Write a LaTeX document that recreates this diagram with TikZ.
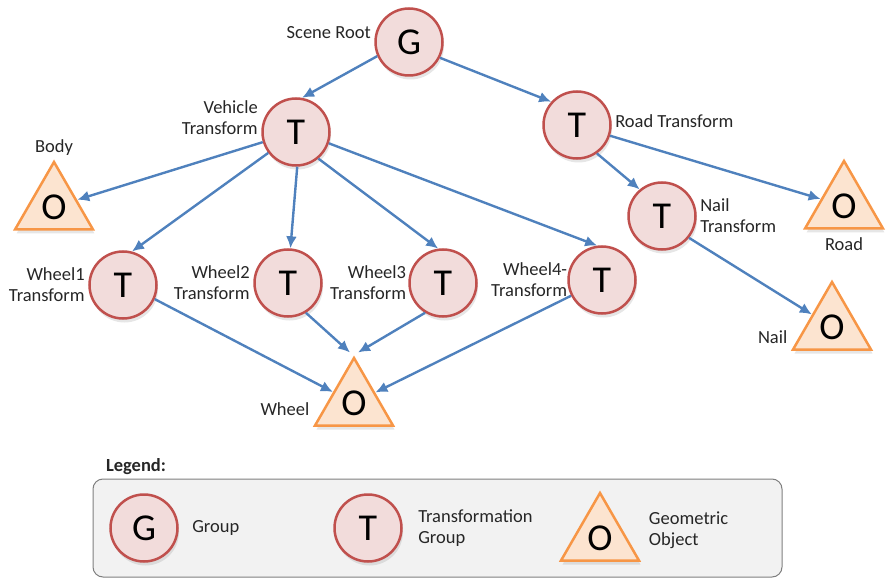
\documentclass[tikz,border=0pt]{standalone}
\usepackage{fontspec}
\setmainfont{Carlito}
\usetikzlibrary{shapes.geometric,shadows,arrows.meta}
\definecolor{grpfill}{HTML}{F2DCDB}
\definecolor{grpline}{HTML}{C0504D}
\definecolor{objfill}{HTML}{FCE4D0}
\definecolor{objline}{HTML}{F79646}
\definecolor{edgeblue}{HTML}{4F81BD}
\definecolor{boxfill}{HTML}{F2F2F2}
\definecolor{boxline}{HTML}{7F7F7F}
\definecolor{labeltext}{HTML}{262626}

\begin{document}
\begin{tikzpicture}
  [x=1pt, y=-1pt,
  font=\fontsize{18.5}{21}\selectfont, text=labeltext,
  shadowed/.style={drop shadow={opacity=0.2, shadow xshift=1.5pt, shadow yshift=-4pt}},
  group/.style={circle, draw=grpline, fill=grpfill, line width=2.5pt, minimum size=67pt, inner sep=0pt, text=black, font=\fontsize{38}{38}\selectfont, shadowed},
  object/.style={regular polygon, regular polygon sides=3, draw=objline, fill=objfill, line width=2.5pt, minimum size=90pt, inner sep=0pt, text=black, font=\fontsize{38}{38}\selectfont, shadowed},
  line/.style={draw=edgeblue, line width=2.4pt, -{Latex[length=12pt, width=11pt]}},
  legendbox/.style={rectangle, rounded corners=10pt, draw=boxline, fill=boxfill, line width=1pt}]
  \useasboundingbox (0,0) rectangle (886,580);
  % nodes
  \node [group] (root) at (409,42) {G};
  \node [anchor=south east] at (root.west) {Scene Root};
  \node [group] (vehicle) at (296,132) {T};
  \node [anchor=south east, align=right, yshift=-6] at (vehicle.west) {Vehicle\\Transform};
  \node [group] (road) at (577,125) {T};
  \node [right, yshift=4] at (road.east) {Road Transform};
  \node [group] (nail) at (662,216) {T};
  \node [right, align=left] at (nail.east) {Nail\\Transform};
  \node [object] (body) at (54,207) {O};
  \node [above] at (body.corner 1) {Body};
  \node [object] (roadobj) at (844,206) {O};
  \node [below, yshift=-4] at (roadobj.south) {Road};
  \node [object] (nailobj) at (832,327) {O};
  \node [anchor=south east, yshift=4] at (nailobj.corner 2) {Nail};
  \node [group] (wheel1) at (123,285) {T};
  \node [left, align=right] at (wheel1.west) {Wheel1\\Transform};
  \node [group] (wheel2) at (288,283) {T};
  \node [left, align=right] at (wheel2.west) {Wheel2\\Transform};
  \node [group] (wheel3) at (443,283) {T};
  \node [left, align=right, inner sep=2pt] at (wheel3.west) {Wheel3\\Transform};
  \node [group] (wheel4) at (602,280) {T};
  \node [left, align=right, inner sep=0pt] at (wheel4.west) {Wheel4-\\Transform};
  \node [object] (wheelobj) at (354,403) {O};
  \node [anchor=south east, yshift=8] at (wheelobj.corner 2) {Wheel};
  % legend
  \node [legendbox, minimum width=689pt, minimum height=98pt] (legend) at (437.5,528) {};
  \node [above right, xshift=10] at (legend.north west) {\textbf{Legend:}};
  \node [group] (legG) at (144,528) {G};
  \node [right, xshift=10] at (legG.east) {Group};
  \node [group] (legT) at (368,528) {T};
  \node [right, xshift=12, align=left] at (legT.east) {Transformation\\Group};
  \node [object] (legO) at (600,538) {O};
  \node [right, xshift=18, yshift=8, align=left] at (legO.east) {Geometric\\Object};
  % edges
  \path [line] (root.204) -- (vehicle.80);
  \path [line] (root.333) -- (road.138);
  \path [line] (vehicle.197) -- (body);
  \path [line] (vehicle.217) -- (wheel1.75);
  \path [line] (vehicle.272) -- (wheel2.86);
  \path [line] (vehicle.310) -- (wheel3.98);
  \path [line] (vehicle.341) -- (wheel4.98);
  \path [line] (road.342) -- (roadobj);
  \path [line] (road.305) -- (nail.130);
  \path [line] (nail.321) -- (nailobj);
  \path [line] (wheel1.336) -- (wheelobj);
  \path [line] (wheel2.301) -- ([xshift=-4, yshift=3]wheelobj.corner 1);
  \path [line] (wheel3.239) -- ([xshift=4, yshift=3]wheelobj.corner 1);
  \path [line] (wheel4.207) -- (wheelobj);
\end{tikzpicture}
\end{document}
